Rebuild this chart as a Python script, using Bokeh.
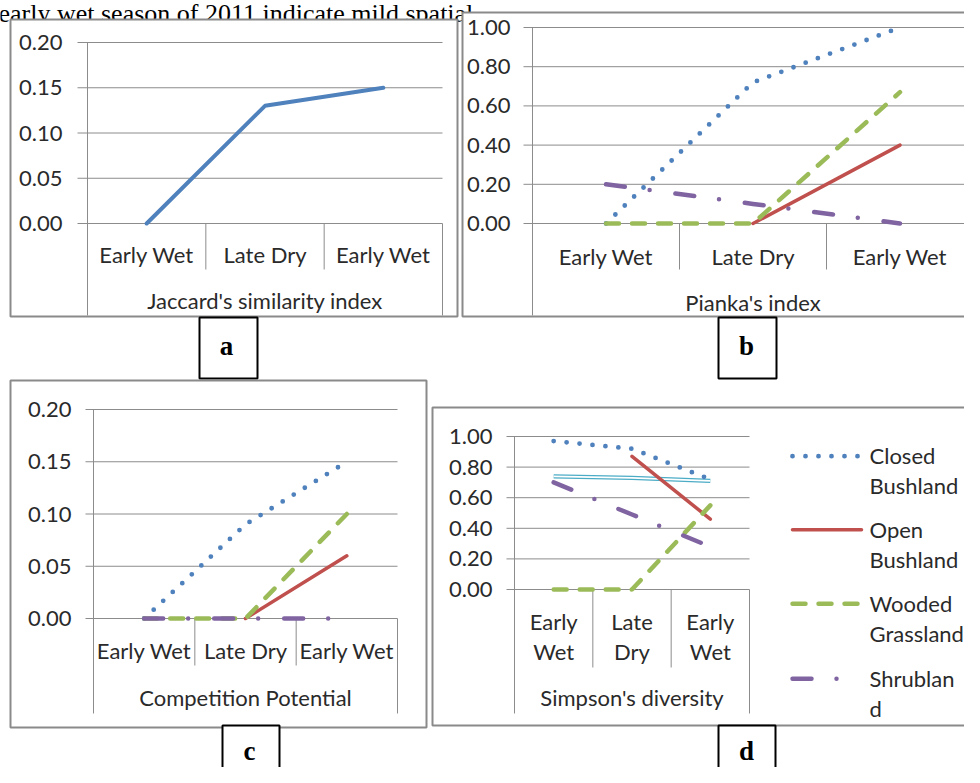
import math
from bokeh.plotting import figure
from bokeh.models import Range1d
from bokeh.core.properties import value
from bokeh.embed import file_html
from bokeh.resources import INLINE

NaN = float("nan")

# ------------------------------------------------------------------ data
seasons = ["Early Wet", "Late Dry", "Early Wet"]
seasons_wrapped = ["Early\nWet", "Late\nDry", "Early\nWet"]
habitats = ["Closed Bushland", "Open Bushland", "Wooded Grassland", "Shrubland"]
legend_text = ["Closed\nBushland", "Open\nBushland", "Wooded\nGrassland", "Shrublan\nd"]

jaccard = [0.00, 0.13, 0.15]

pianka_closed = [0.00, 0.72, 1.00]
pianka_open = [NaN, 0.00, 0.40]
pianka_wooded = [0.00, 0.00, 0.67]
pianka_shrub = [0.20, 0.10, 0.00]

competition_closed = [0.00, 0.09, 0.15]
competition_open = [NaN, 0.00, 0.06]
competition_wooded = [0.00, 0.00, 0.10]
competition_shrub = [0.00, 0.00, 0.00]

simpson_closed = [0.97, 0.92, 0.72]
simpson_open = [NaN, 0.87, 0.46]
simpson_wooded = [0.00, 0.00, 0.55]
simpson_shrub = [0.70, 0.49, 0.28]
simpson_unlabelled = [0.74, 0.73, 0.71]

ticks_small = [0.00, 0.05, 0.10, 0.15, 0.20]
tick_labels_small = ["0.00", "0.05", "0.10", "0.15", "0.20"]
ticks_unit = [0.00, 0.20, 0.40, 0.60, 0.80, 1.00]
tick_labels_unit = ["0.00", "0.20", "0.40", "0.60", "0.80", "1.00"]

group_titles = ["Jaccard's similarity index", "Pianka's index",
                "Competition Potential", "Simpson's diversity"]
panel_letters = ["a", "b", "c", "d"]
caption = "early wet season of 2011 indicate mild spatial"

# ------------------------------------------------------------------ style
FONT = value("Lato")
SERIF = value("Liberation Serif")
TEXT = "#2a2a2a"
GRID = "#8c8c8c"
BORDER = "#8a8a8a"
SIZE = "22px"
LINE_H = 1.1

STY = {
    "jaccard": dict(line_color="#4F81BD", line_width=4, line_cap="round"),
    "closed": dict(line_color="#4F81BD", line_width=4.8, line_dash="0 13", line_cap="round"),
    "open": dict(line_color="#C0504D", line_width=3.5, line_cap="round"),
    "wooded": dict(line_color="#9BBB59", line_width=4.5, line_dash="13 13", line_cap="round"),
    "shrub": dict(line_color="#8064A2", line_width=4.5, line_dash="19 25 0 26", line_cap="round"),
}

# panel geometry in page pixels
LAYOUT = {
    "a": dict(box=(10, 19, 457, 316), axis=87, right=442, y0=223, ytop=42, tick=77,
              ticklab=62, sep=269, bottom=315, catlab=254, group=300,
              lbox=(199, 317, 257, 378), lpos=(226, 345)),
    "b": dict(box=(462, 12, 978, 316), axis=532, right=973, y0=223, ytop=27, tick=523,
              ticklab=510, sep=269, bottom=315, catlab=256, group=302,
              lbox=(718, 317, 776, 378), lpos=(746, 345)),
    "c": dict(box=(10, 380, 426, 727), axis=93, right=397, y0=618, ytop=409, tick=85,
              ticklab=71, sep=665, bottom=713, catlab=650, group=697,
              lbox=(222, 725, 279, 795), lpos=(249, 750)),
    "d": dict(box=(432, 407, 995, 725), axis=514, right=749, y0=589, ytop=436, tick=506,
              ticklab=492, sep=667, bottom=713, catlab=636, group=697,
              lbox=(718, 725, 775, 795), lpos=(746, 750)),
}

W, H = 964, 767
p = figure(width=W, height=H, x_range=Range1d(0, W), y_range=Range1d(H, 0),
           output_backend="svg", toolbar_location=None, min_border=0,
           x_axis_location=None, y_axis_location=None, title=None)
p.grid.visible = False
p.outline_line_color = None
p.background_fill_color = "white"
p.border_fill_color = "white"

# caption fragment at the very top
p.text(x=[-2], y=[12.5], text=[caption], text_font=SERIF, text_font_size="26px",
       text_baseline="alphabetic", text_color="black")


def draw_panel(key, ymax, ticks, tick_labels, cats, group, series):
    L = LAYOUT[key]
    bx0, by0, bx1, by1 = L["box"]
    p.quad(left=[bx0], right=[bx1], top=[by0], bottom=[by1], fill_color="white",
           line_color=BORDER, line_width=2)
    sub = p.subplot(x_source=Range1d(0, 3), y_source=Range1d(0, ymax),
                    x_target=Range1d(L["axis"], L["right"]),
                    y_target=Range1d(L["y0"], L["ytop"]))
    dx = 3.0 / (L["right"] - L["axis"])
    dy = ymax / (L["y0"] - L["ytop"])
    tick_len = (L["axis"] - L["tick"]) * dx
    # gridlines + outside tick marks
    sub.segment(x0=-tick_len, x1=3, y0=ticks, y1=ticks, line_color=GRID, line_width=1)
    # value axis line and category frame
    depth = -(L["bottom"] - L["y0"]) * dy
    sep_depth = -(L["sep"] - L["y0"]) * dy
    sub.segment(x0=[0], x1=[0], y0=[ymax], y1=[depth], line_color=GRID, line_width=1)
    sub.segment(x0=[3], x1=[3], y0=[0], y1=[depth], line_color=GRID, line_width=1)
    sub.segment(x0=[1, 2], x1=[1, 2], y0=0, y1=sep_depth, line_color=GRID, line_width=1)
    # tick labels
    sub.text(x=0, y=ticks, text=tick_labels, x_offset=-(L["axis"] - L["ticklab"]),
             text_align="right", text_baseline="middle", text_font=FONT,
             text_font_size=SIZE, text_color=TEXT)
    xs = [0.5, 1.5, 2.5]
    sub.text(x=xs, y=0, text=cats, y_offset=L["catlab"] - L["y0"], text_align="center",
             text_baseline="middle", text_font=FONT, text_font_size=SIZE,
             text_color=TEXT, text_line_height=LINE_H)
    sub.text(x=[1.5], y=[0], text=[group], y_offset=L["group"] - L["y0"],
             text_align="center", text_baseline="middle", text_font=FONT,
             text_font_size=SIZE, text_color=TEXT)
    for ys, sty in series:
        if sty == "unlabelled":
            sub.line(x=xs, y=ys, line_color="#4BACC6", line_width=4.2)
            sub.line(x=xs, y=ys, line_color="white", line_width=1.8)
        else:
            sub.line(x=xs, y=ys, **STY[sty])
    # letter box
    lx0, ly0, lx1, ly1 = L["lbox"]
    p.quad(left=[lx0], right=[lx1], top=[ly0], bottom=[ly1], fill_color="white",
           line_color="black", line_width=2)


draw_panel("a", 0.20, ticks_small, tick_labels_small, seasons, group_titles[0],
           [(jaccard, "jaccard")])
draw_panel("b", 1.0, ticks_unit, tick_labels_unit, seasons, group_titles[1],
           [(pianka_closed, "closed"), (pianka_open, "open"),
            (pianka_wooded, "wooded"), (pianka_shrub, "shrub")])
draw_panel("c", 0.20, ticks_small, tick_labels_small, seasons, group_titles[2],
           [(competition_closed, "closed"), (competition_open, "open"),
            (competition_wooded, "wooded"), (competition_shrub, "shrub")])
draw_panel("d", 1.0, ticks_unit, tick_labels_unit, seasons_wrapped, group_titles[3],
           [(simpson_unlabelled, "unlabelled"), (simpson_closed, "closed"),
            (simpson_open, "open"), (simpson_wooded, "wooded"), (simpson_shrub, "shrub")])

# panel letters
p.text(x=[LAYOUT[k]["lpos"][0] for k in panel_letters],
       y=[LAYOUT[k]["lpos"][1] for k in panel_letters], text=panel_letters,
       text_align="center", text_baseline="middle", text_font=SERIF,
       text_font_style="bold", text_font_size="27px", text_color="black")

# legend of panel d
leg_y = [455.7, 529.3, 603.3, 678.3]
for yy, key in zip(leg_y, ["closed", "open", "wooded", "shrub"]):
    p.line(x=[792, 861], y=[yy, yy], **STY[key])
p.text(x=869, y=[yy + 14.5 for yy in leg_y], text=legend_text, text_align="left",
       text_baseline="middle", text_font=FONT, text_font_size=SIZE, text_color=TEXT,
       text_line_height=LINE_H)

open("out.html", "w").write(file_html(p, INLINE))
